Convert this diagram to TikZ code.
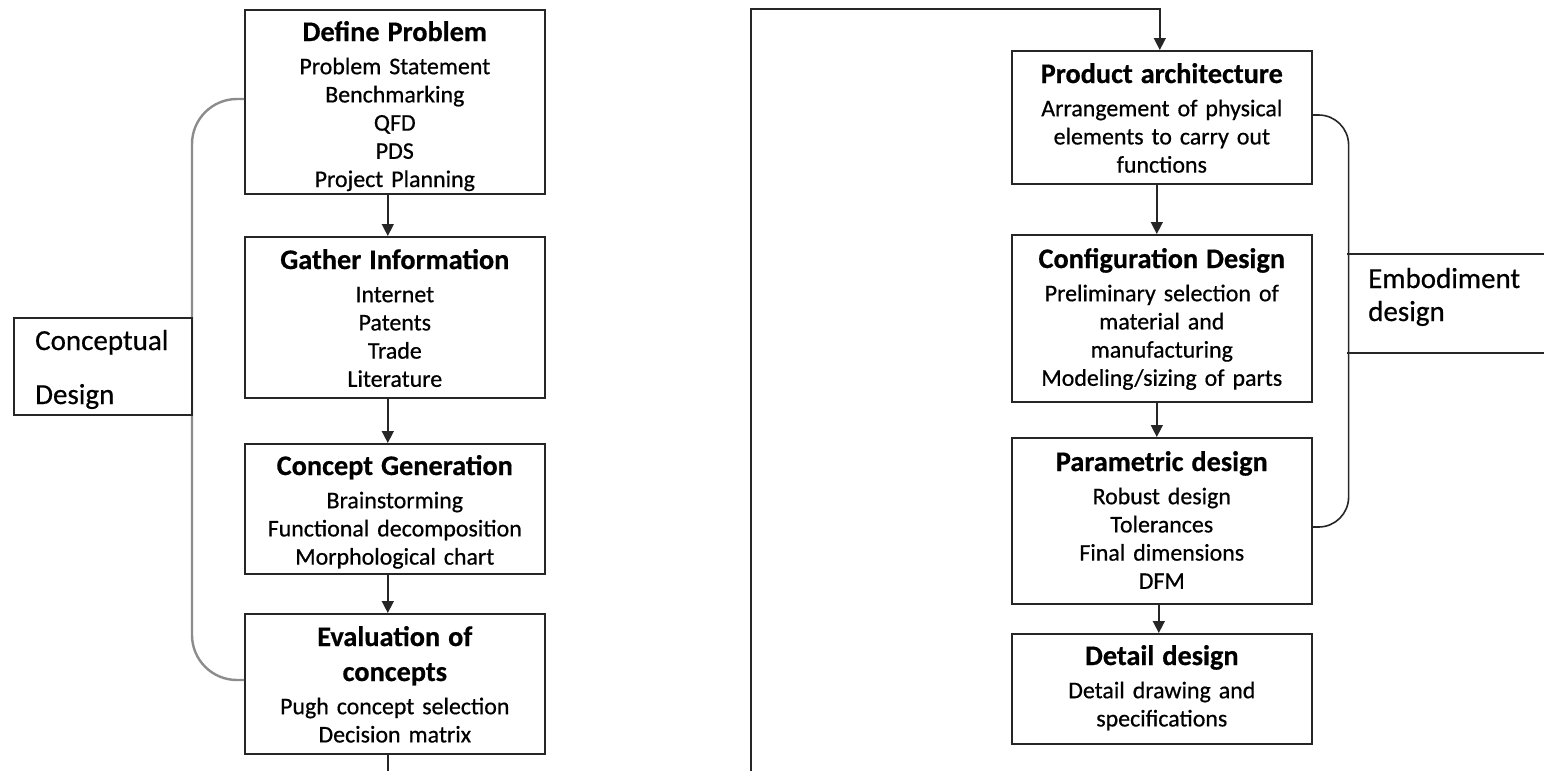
\documentclass[tikz,border=0pt]{standalone}
\usepackage{fontspec}
\setmainfont{Carlito}[FakeBold=0.6]
\usetikzlibrary{arrows.meta,calc}
\newcommand\ttl[1]{{\fontsize{28.3}{35}\selectfont\bfseries #1}}
\begin{document}
\begin{tikzpicture}[x=1pt,y=-1pt,
  stage/.style={draw=black!85, line width=1.6pt, minimum width=300pt, inner sep=0pt, anchor=north west},
  stxt/.style={anchor=base, text width=300pt, align=center, inner sep=0pt, font=\fontsize{23.9}{28.2}\selectfont},
  lbl/.style={anchor=base west, text width=170pt, align=left, inner sep=0pt, font=\fontsize{29}{33}\selectfont},
  conn/.style={line width=1.5pt, draw=black!85},
  arr/.style={conn, -{Triangle[length=12pt,width=12pt]}},
  brL/.style={line width=2.4pt, draw=black!45, rounded corners=45pt},
  brR/.style={line width=1.6pt, draw=black!85, rounded corners=30pt},
]
\useasboundingbox (0,0) rectangle (1544,771);

% left column boxes
\node[stage, minimum height=184pt] (dp) at (244,9) {};
\node[stage, minimum height=161pt] (gi) at (244,236) {};
\node[stage, minimum height=130pt] (cg) at (244,443) {};
\node[stage, minimum height=140pt] (ev) at (244,613) {};

\node[stxt] (dpt) at ([yshift=-32pt]dp.north) {\ttl{Define Problem}\\[5pt]Problem Statement\\Benchmarking\\QFD\\PDS\\Project Planning};
\node[stxt] (git) at ([yshift=-33pt]gi.north) {\ttl{Gather Information}\\[5pt]Internet\\Patents\\Trade\\Literature};
\node[stxt] (cgt) at ([yshift=-32pt]cg.north) {\ttl{Concept Generation}\\[5pt]Brainstorming\\Functional decomposition\\Morphological chart};
\node[stxt] (evt) at ([yshift=-33pt]ev.north) {\ttl{Evaluation of}\\[6.8pt]\ttl{concepts}\\[5pt]Pugh concept selection\\Decision matrix};

% right column boxes
\node[stage, minimum height=133pt] (pa) at (1011,50) {};
\node[stage, minimum height=167pt] (cf) at (1011,234) {};
\node[stage, minimum height=166pt] (pd) at (1011,437) {};
\node[stage, minimum height=110pt] (dd) at (1011,633) {};

\node[stxt] (pat) at ([yshift=-33pt]pa.north) {\ttl{Product architecture}\\[5pt]Arrangement of physical\\elements to carry out\\functions};
\node[stxt] (cft) at ([yshift=-34pt]cf.north) {\ttl{Configuration Design}\\[5pt]Preliminary selection of\\material and\\manufacturing\\Modeling/sizing of parts};
\node[stxt] (pdt) at ([yshift=-34pt]pd.north) {\ttl{Parametric design}\\[5pt]Robust design\\Tolerances\\Final dimensions\\DFM};
\node[stxt] (ddt) at ([yshift=-32pt]dd.north) {\ttl{Detail design}\\[5pt]Detail drawing and\\specifications};

% arrows between stages
\draw[arr] ([xshift=-7pt]dp.south) -- ([xshift=-7pt]gi.north);
\draw[arr] ([xshift=-7pt]gi.south) -- ([xshift=-7pt]cg.north);
\draw[arr] ([xshift=-7pt]cg.south) -- ([xshift=-7pt]ev.north);
\draw[arr] ([xshift=-5pt]pa.south) -- ([xshift=-5pt]cf.north);
\draw[arr] ([xshift=-5pt]cf.south) -- ([xshift=-5pt]pd.north);
\draw[arr] ([xshift=-3pt]pd.south) -- ([xshift=-3pt]dd.north);

% link from left column to right column
\coordinate (bl) at (387,771);
\coordinate (rb) at (751,771);
\coordinate (rt) at (751,9);
\draw[conn] ([xshift=-7pt]ev.south) -- ([xshift=-7pt]ev.south |- bl);
\draw[arr] (rb) -- (rt) -| ([xshift=-2pt]pa.north);

% conceptual design bracket and label
\draw[brL] ($(dp.north west)+(0,90)$) -- ++(-52,0) |- ($(ev.north west)+(0,67)$);
\node[draw=black!85, line width=1.6pt, fill=white, minimum width=178pt, minimum height=97pt, inner sep=0pt, anchor=north west] (cd) at (13,317) {};
\node[lbl] (cdt) at ([xshift=22pt,yshift=-33pt]cd.north west) {Conceptual\\[21pt]Design};

% embodiment design bracket and label
\draw[brR] ($(pa.north east)+(0,65)$) -- ++(36,0) |- ($(pd.north east)+(0,90)$);
\coordinate (ebnw) at (1347,254);
\coordinate (ebne) at (1544,254);
\coordinate (ebsw) at (1347,353);
\coordinate (ebse) at (1544,353);
\draw[conn] (ebnw) -- (ebne);
\draw[conn] (ebsw) -- (ebse);
\node[lbl] (ebt) at ([xshift=21pt,yshift=-34pt]ebnw) {Embodiment\\design};
\end{tikzpicture}
\end{document}
